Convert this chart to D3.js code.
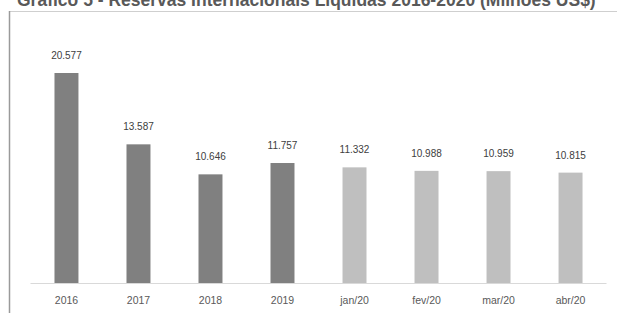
<!DOCTYPE html>
<html><head><meta charset="utf-8">
<script src="https://cdn.jsdelivr.net/npm/d3@7"></script>
<style>html,body{margin:0;padding:0;background:#fff;overflow:hidden}</style>
</head><body>
<svg id="chart" width="617" height="313"></svg>
<script>
const categories = ["2016","2017","2018","2019","jan/20","fev/20","mar/20","abr/20"];
const values = [20577, 13587, 10646, 11757, 11332, 10988, 10959, 10815];
const valueLabels = ["20.577","13.587","10.646","11.757","11.332","10.988","10.959","10.815"];
const groups = ["ano","ano","ano","ano","mes","mes","mes","mes"];
const title = "Gráfico 5 - Reservas Internacionais Líquidas 2016-2020 (Milhões US$)";

const svg = d3.select("#chart");
const font = "'Liberation Sans', Arial, sans-serif";

// frame
svg.append("line").attr("x1",9).attr("x2",617).attr("y1",11.5).attr("y2",11.5)
  .attr("stroke","#cfcfcf").attr("stroke-width",1);
svg.append("line").attr("x1",9.5).attr("x2",9.5).attr("y1",11).attr("y2",313)
  .attr("stroke","#9a9a9a").attr("stroke-width",1.5);

// title (cut at top, as in the reference)
svg.append("text").attr("x",17).attr("y",6).text(title)
  .attr("font-family",font).attr("font-size",17.5).attr("font-weight","bold").attr("fill","#595959");

const x = d3.scaleBand().domain(categories).range([30.5,606.5]).paddingInner(0.667).paddingOuter(0.333);
const y = d3.scaleLinear().domain([0, 20577]).range([283, 73]);

const color = d3.scaleOrdinal().domain(["ano","mes"]).range(["#808080","#bfbfbf"]);

// baseline
const xAxis = d3.axisBottom(x).tickSize(0).tickPadding(14);
const ax = svg.append("g").attr("transform","translate(0,283)").call(xAxis);
ax.select(".domain").attr("stroke","#d9d9d9").attr("d","M30.5,0.5H606.5");
ax.selectAll("text").attr("font-family",font).attr("font-size",10.5).attr("fill","#595959");

svg.append("g").selectAll("rect").data(values).join("rect")
  .attr("x",(d,i)=>x(categories[i]))
  .attr("width",x.bandwidth())
  .attr("y",d=>y(d))
  .attr("height",d=>y(0)-y(d))
  .attr("fill",(d,i)=>color(groups[i]));

svg.append("g").selectAll("text").data(values).join("text")
  .attr("x",(d,i)=>x(categories[i])+x.bandwidth()/2)
  .attr("y",d=>y(d)-14)
  .attr("text-anchor","middle")
  .attr("font-family",font).attr("font-size",10).attr("fill","#404040")
  .text((d,i)=>valueLabels[i]);
</script>
</body></html>
